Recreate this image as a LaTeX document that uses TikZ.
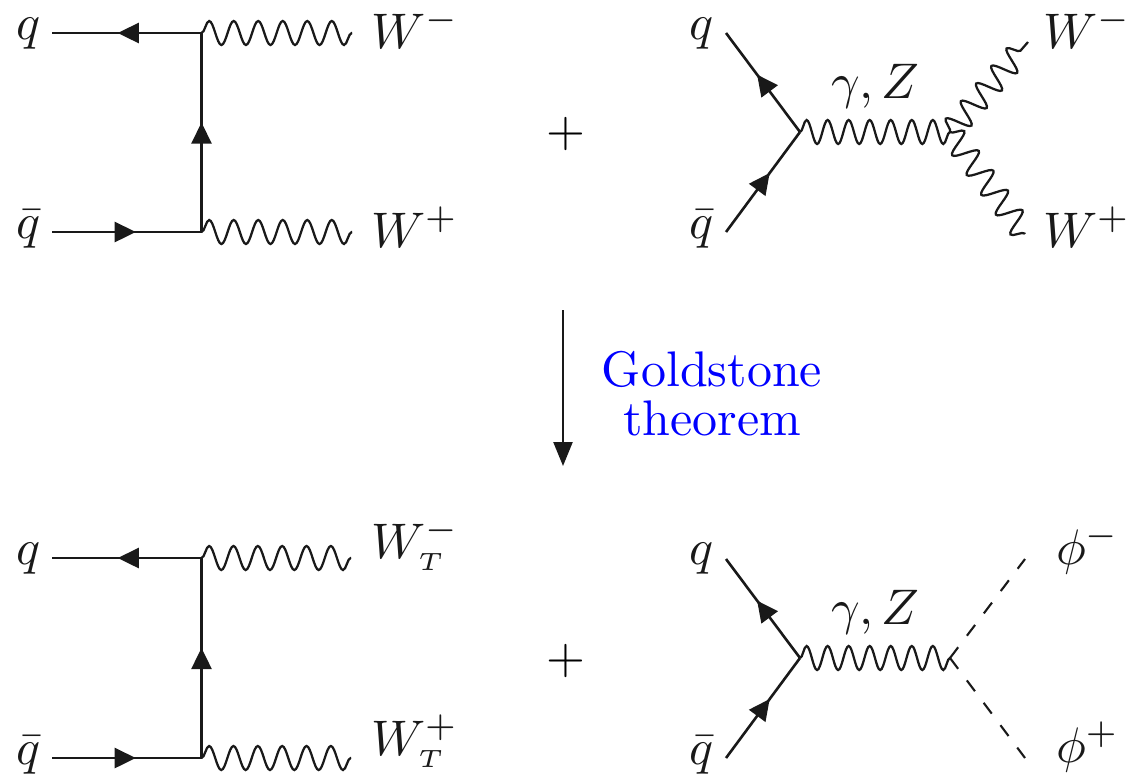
\documentclass[tikz,border=0pt]{standalone}
\usetikzlibrary{arrows.meta,decorations.markings,decorations.pathmorphing}
\tikzset{
  lab/.style={anchor=base west,inner sep=0pt,outer sep=0pt,text=black!90},
  fermion/.style={line width=0.52pt,black!90,postaction={decorate},
    decoration={markings,mark=at position #1 with {\arrow{Triangle[length=4.2pt,width=4pt]}}}},
  fermion/.default=0.56,
  boson/.style={line width=0.45pt,black!90,decorate,
    decoration={snake,segment length=#1,amplitude=2.4pt,pre length=0pt,post length=0pt}},
  boson/.default=4.905pt,
  scalar/.style={line width=0.42pt,black!90,dash pattern=on 2.7pt off 2.9pt},
  flow/.style={line width=0.48pt,black!90,-{Triangle[length=4.8pt,width=3.8pt]}},
}
\begin{document}
\begin{tikzpicture}[x=0.2pt,y=-0.2pt]
\useasboundingbox (0,0) rectangle (1131,775);
% top-left
\coordinate (a1) at (52,33); \coordinate (a2) at (201.5,33); \coordinate (a3) at (352,33);
\coordinate (a4) at (52,232); \coordinate (a5) at (201.5,232); \coordinate (a6) at (352,232);
\draw[fermion] (a2) -- (a1);
\draw[fermion=0.55] (a5) -- (a2);
\draw[fermion] (a4) -- (a5);
\draw[boson] (a2) -- (a3);
\draw[boson] (a5) -- (a6);
\node[lab] (l1) at (16,39) {$q$};
\node[lab] (l2) at (16,238) {$\bar q$};
\node[lab] (l3) at (371,48) {$W^-$};
\node[lab] (l4) at (371,247) {$W^+$};
% top-right
\coordinate (b1) at (726,33); \coordinate (b2) at (800,132); \coordinate (b3) at (726,232);
\coordinate (b4) at (950,132); \coordinate (b5) at (1028,42); \coordinate (b6) at (1025,234);
\draw[fermion=0.58] (b2) -- (b1);
\draw[fermion=0.59] (b3) -- (b2);
\draw[boson=4.208pt] (b2) -- (b4);
\draw[boson=4.65pt] (b4) -- (b5);
\draw[boson=4.92pt] (b4) -- (b6);
\node[lab] (l5) at (689,39) {$q$};
\node[lab] (l6) at (689,238) {$\bar q$};
\node[lab] (l7) at (1043,48) {$W^-$};
\node[lab] (l8) at (1043,247) {$W^+$};
\node[lab] (l9) at (831,98) {$\gamma,Z$};
\node[inner sep=0pt] (p1) at (566,134) {$+$};
% arrow
\coordinate (f1) at (563,310); \coordinate (f2) at (563,466);
\draw[flow] (f1) -- (f2);
\node[anchor=base,inner sep=0pt,text=blue] (g1) at (712,386) {Goldstone};
\node[anchor=base,inner sep=0pt,text=blue] (g2) at (712,435) {theorem};
% bottom-left
\coordinate (c1) at (52,558); \coordinate (c2) at (201.5,558); \coordinate (c3) at (351,558);
\coordinate (c4) at (52,758); \coordinate (c5) at (201.5,758); \coordinate (c6) at (351,758);
\draw[fermion] (c2) -- (c1);
\draw[fermion=0.55] (c5) -- (c2);
\draw[fermion] (c4) -- (c5);
\draw[boson=4.87pt] (c2) -- (c3);
\draw[boson=4.87pt] (c5) -- (c6);
\node[lab] (m1) at (16,564) {$q$};
\node[lab] (m2) at (16,764) {$\bar q$};
\node[lab] (m3) at (371,558) {$W^-_{\scriptscriptstyle T}$};
\node[lab] (m4) at (371,755) {$W^+_{\scriptscriptstyle T}$};
% bottom-right
\coordinate (d1) at (726,559); \coordinate (d2) at (800,658); \coordinate (d3) at (726,758);
\coordinate (d4) at (950,658); \coordinate (d5) at (1025,559); \coordinate (d6) at (1025,758);
\draw[fermion=0.58] (d2) -- (d1);
\draw[fermion=0.59] (d3) -- (d2);
\draw[boson=4.208pt] (d2) -- (d4);
\draw[scalar] (d4) -- (d5);
\draw[scalar] (d4) -- (d6);
\node[lab] (m5) at (689,564) {$q$};
\node[lab] (m6) at (689,764) {$\bar q$};
\node[lab] (m7) at (1056,564) {$\phi^-$};
\node[lab] (m8) at (1056,762) {$\phi^+$};
\node[lab] (m9) at (831,624) {$\gamma,Z$};
\node[inner sep=0pt] (p2) at (566,661) {$+$};
\end{tikzpicture}
\end{document}
